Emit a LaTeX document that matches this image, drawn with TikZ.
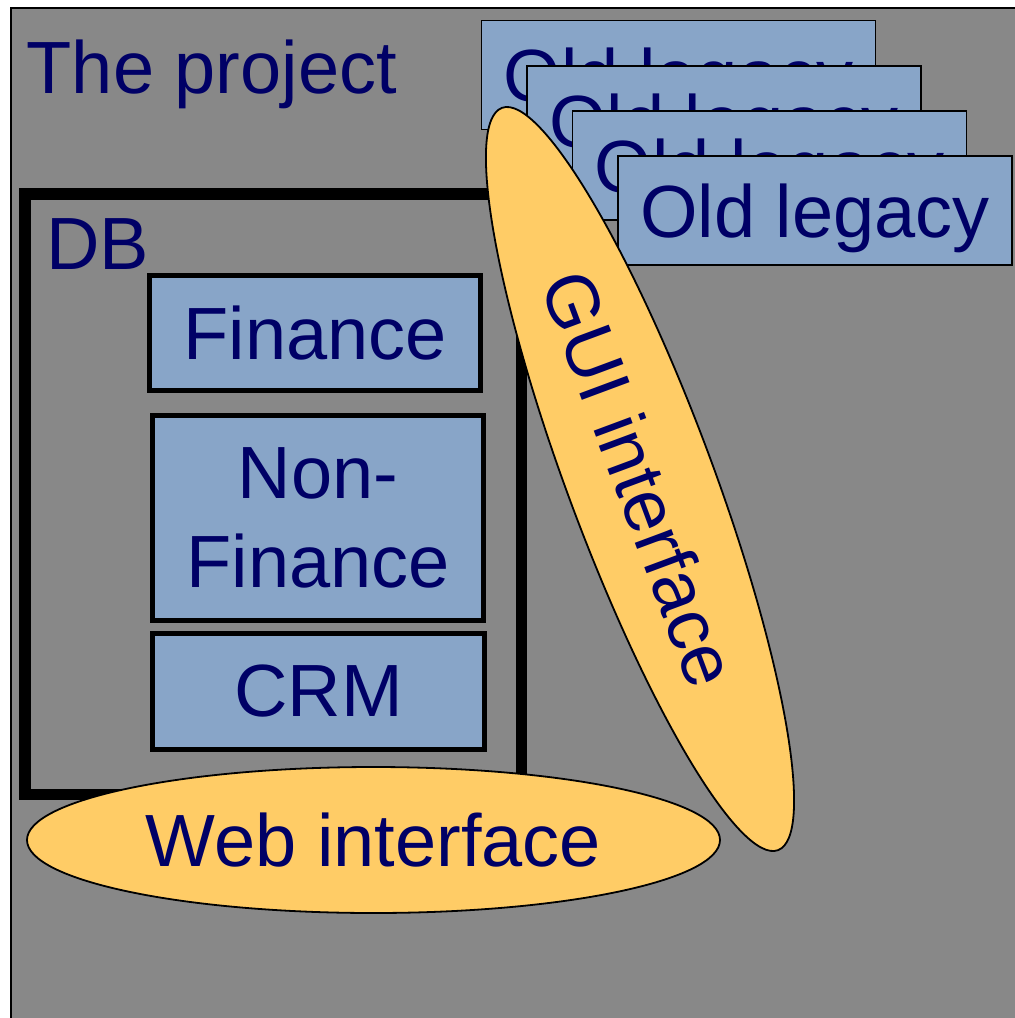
\documentclass[tikz,border=0pt]{standalone}
\usepackage{fontspec}
\setmainfont{Liberation Sans}
\usetikzlibrary{shapes.geometric}
\definecolor{bggray}{RGB}{136,136,136}
\definecolor{boxblue}{RGB}{136,165,200}
\definecolor{ifyellow}{RGB}{255,204,102}
\definecolor{navytext}{RGB}{0,0,102}
\tikzset{
  big/.style={font=\fontsize{74}{89}\selectfont, text=navytext},
  dbpart/.style={big, draw=black, line width=5.5pt, fill=boxblue, inner sep=0pt, outer sep=0pt, minimum width=331pt, align=center},
  legacy/.style={big, draw=black, line width=1.8pt, fill=boxblue, inner sep=0pt, outer sep=0pt, minimum width=394pt, minimum height=109pt, text depth=0pt},
  iface/.style={big, ellipse, draw=black, line width=1.8pt, fill=ifyellow, inner sep=0pt, outer sep=0pt},
}
\begin{document}
\begin{tikzpicture}[x=1pt,y=-1pt]
\useasboundingbox (0,0) rectangle (1015,1018);
\fill[white] (0,0) rectangle (1015,1018);
\node[draw=black, line width=2pt, fill=bggray, inner sep=0pt, minimum width=1020pt, minimum height=1030pt, anchor=north west] (frame) at (10,7) {};
\node[big, anchor=base west, inner sep=0pt] (title) at (26.5,93) {The project};
\node[draw=black, line width=11.5pt, inner sep=0pt, outer sep=0pt, minimum width=496.5pt, minimum height=600.5pt] (db) at (273,494) {};
\node[big, anchor=base west, inner sep=0pt] (dblabel) at (46,269) {DB};
\node[dbpart, minimum height=115pt] (fin) at (315,333) {Finance};
\node[dbpart, minimum height=205pt] (nonfin) at (318,518) {Non-\\Finance};
\node[dbpart, minimum width=332pt, minimum height=116pt] (crm) at (318.5,691.5) {CRM};
\node[legacy] (leg1) at (678.5,75) {Old legacy};
\node[legacy] (leg2) at (724,120.5) {Old legacy};
\node[legacy] (leg3) at (769.5,165.5) {Old legacy};
\node[legacy] (leg4) at (815,210.5) {Old legacy};
\node[iface, minimum width=792pt, minimum height=146pt, rotate=-69.6] (gui) at (640,479) {GUI interface};
\node[iface, minimum width=693pt, minimum height=146pt] (web) at (373.5,840) {Web interface};
\end{tikzpicture}
\end{document}
